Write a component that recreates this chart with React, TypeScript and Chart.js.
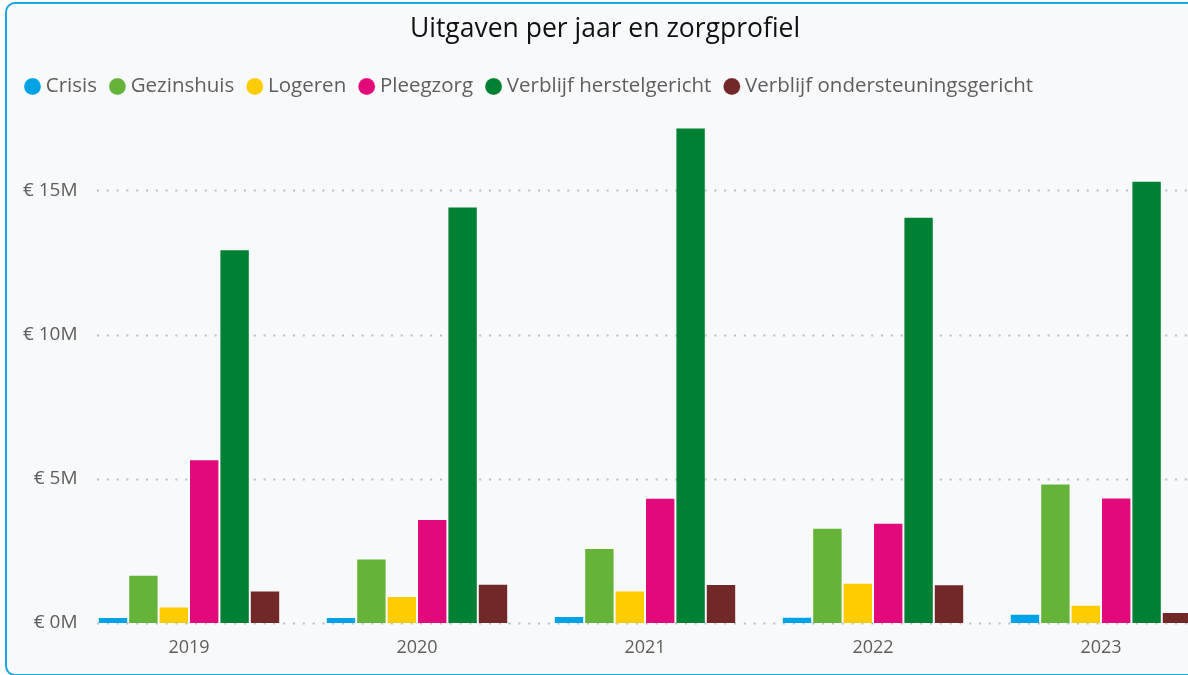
import React, { useEffect, useRef } from "react";
import { Chart, registerables } from "chart.js";

Chart.register(...registerables);

const years = ["2019", "2020", "2021", "2022", "2023"];
const seriesNames = [
  "Crisis",
  "Gezinshuis",
  "Logeren",
  "Pleegzorg",
  "Verblijf herstelgericht",
  "Verblijf ondersteuningsgericht",
];
// values in millions of euros
const crisis = [0.21, 0.21, 0.24, 0.22, 0.32];
const gezinshuis = [1.67, 2.24, 2.6, 3.3, 4.84];
const logeren = [0.57, 0.94, 1.13, 1.4, 0.63];
const pleegzorg = [5.68, 3.61, 4.34, 3.48, 4.35];
const verblijfHerstel = [12.96, 14.44, 17.18, 14.09, 15.34];
const verblijfOndersteuning = [1.13, 1.36, 1.35, 1.34, 0.38];
const seriesValues = [crisis, gezinshuis, logeren, pleegzorg, verblijfHerstel, verblijfOndersteuning];
const seriesColors = ["#01A2E6", "#66B33A", "#FFCC00", "#E2097A", "#008033", "#722828"];
const yTicks = [0, 5, 10, 15];

const FONT = "'Open Sans', 'Noto Sans', sans-serif";
const TICK_SIZE = 19;

const dottedGrid = {
  id: "dottedGrid",
  beforeDatasetsDraw(chart: any) {
    const { ctx, scales, chartArea, width } = chart;
    const y = scales.y;
    ctx.save();
    ctx.strokeStyle = "rgba(170,170,175,0.75)";
    ctx.lineWidth = 2;
    ctx.setLineDash([2, 7.8]);
    yTicks.forEach((t) => {
      const py = Math.round(y.getPixelForValue(t)) + 0.5;
      ctx.beginPath();
      ctx.moveTo(chartArea.left + 22, py);
      ctx.lineTo(width, py);
      ctx.stroke();
    });
    ctx.restore();
  },
};

// the visual's title is centred on the visible frame, which is a little narrower than the plot
const titleShift = {
  id: "titleShift",
  afterLayout(chart: any) {
    if (chart.titleBlock) chart.titleBlock.right -= 17;
  },
};

export default function App() {
  const ref = useRef<HTMLCanvasElement | null>(null);

  useEffect(() => {
    if (!ref.current) return;
    const mctx = ref.current.getContext("2d") as CanvasRenderingContext2D;
    mctx.font = `${TICK_SIZE}px ${FONT}`;
    const widest = Math.max(...yTicks.map((t) => mctx.measureText("€ " + t + "M").width));

    const chart = new Chart(ref.current, {
      type: "bar",
      data: {
        labels: years,
        datasets: seriesNames.map((name, i) => ({
          label: name,
          data: seriesValues[i],
          backgroundColor: seriesColors[i],
          borderColor: "rgba(255,255,255,0.22)",
          borderWidth: 1,
          categoryPercentage: 0.8,
          barPercentage: 1,
        })),
      },
      options: {
        animation: false,
        responsive: false,
        maintainAspectRatio: false,
        layout: { padding: { left: 5, right: 0, top: 0, bottom: 0 } },
        plugins: {
          title: {
            display: true,
            text: "Uitgaven per jaar en zorgprofiel",
            color: "#111111",
            font: { family: FONT, size: 26.5, weight: "normal" },
            padding: { top: 10, bottom: 13 },
          },
          legend: {
            display: true,
            position: "top",
            align: "start",
            labels: {
              usePointStyle: true,
              pointStyle: "circle",
              boxWidth: 6,
              boxHeight: 12,
              padding: 17.5,
              color: "#605E5C",
              font: { family: FONT, size: 20.5 },
            },
          },
          tooltip: { enabled: false },
        },
        scales: {
          x: {
            grid: { display: false, drawTicks: false },
            border: { display: false },
            ticks: { color: "#605E5C", font: { family: FONT, size: 18 }, padding: 14 },
            afterFit(scale: any) {
              scale.height = 51;
            },
          },
          y: {
            min: 0,
            max: 17.9,
            grid: { display: false, drawTicks: false },
            border: { display: false },
            ticks: {
              stepSize: 5,
              includeBounds: false,
              mirror: true,
              crossAlign: "far",
              padding: 2.5 - widest,
              color: "#605E5C",
              font: { family: FONT, size: TICK_SIZE },
              callback: (v: any) => "€ " + v + "M",
            },
            afterFit(scale: any) {
              scale.width = 63;
            },
          },
        },
      },
      plugins: [dottedGrid, titleShift],
    });
    return () => chart.destroy();
  }, []);

  return (
    <div style={{ position: "fixed", inset: 0, overflow: "hidden", background: "#ffffff" }}>
      <div
        style={{
          position: "absolute",
          left: 5,
          top: 2,
          width: 1260,
          height: 670,
          border: "2px solid #1BA6E0",
          borderRadius: 10,
          background: "#F8F9FB",
          overflow: "hidden",
        }}
      >
        <canvas ref={ref} width={1208} height={670} style={{ display: "block", width: 1208, height: 670 }} />
      </div>
    </div>
  );
}
